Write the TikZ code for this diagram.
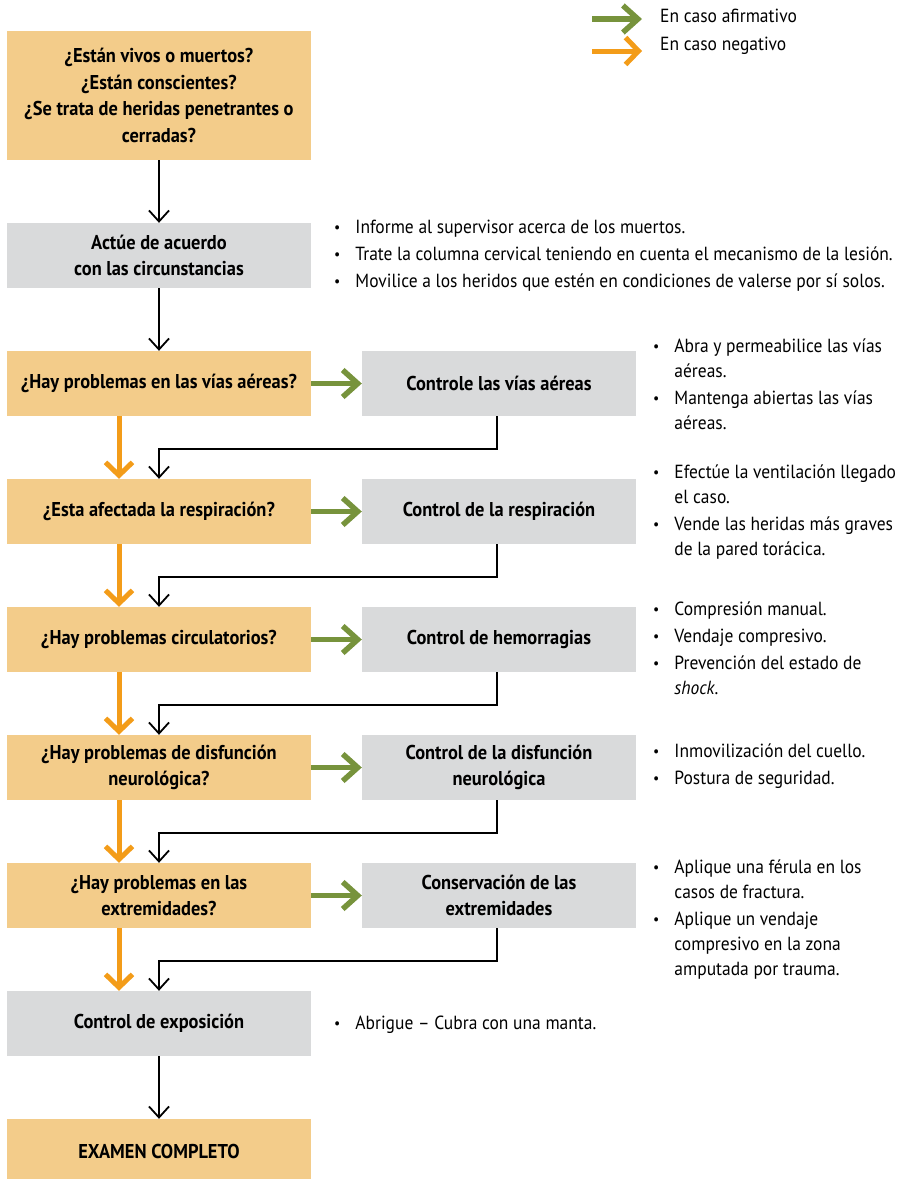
\documentclass[tikz,border=0pt]{standalone}
\usepackage{fontspec}
\setmainfont{PT Sans}[FakeStretch=0.92]
\usetikzlibrary{arrows.meta}
\definecolor{boxorange}{HTML}{F3CC8A}
\definecolor{boxgrey}{HTML}{D9DADB}
\definecolor{argreen}{HTML}{77933C}
\definecolor{arorange}{HTML}{F39C19}
\newcommand{\bul}{\raisebox{1pt}{\fontsize{15}{15}\selectfont •}}
\tikzset{
	qbox/.style={fill=boxorange, minimum width=304pt, minimum height=65pt, inner sep=0pt, align=center, font=\bfseries\fontsize{20}{26.5}\selectfont},
	gbox/.style={qbox, fill=boxgrey},
	rbox/.style={gbox, minimum width=274pt},
	yesarrow/.style={argreen, line width=5.5pt, -{Straight Barb[length=15pt,width=27pt]}},
	noarrow/.style={arorange, line width=5pt, -{Straight Barb[length=13pt,width=27pt]}},
	flow/.style={black, line width=1.8pt, -{Straight Barb[length=11pt,width=20pt]}},
	notes/.style={anchor=west, align=left, inner sep=0pt, font=\fontsize{19}{25}\selectfont}
}
\begin{document}
\begin{tikzpicture}[x=1pt, y=-1pt]
	\useasboundingbox (0,0) rectangle (897,1179);
	% legend
	\coordinate (g0) at (592,19);
	\coordinate (g1) at (642,19);
	\coordinate (o0) at (592,51);
	\coordinate (o1) at (642,51);
	\draw[yesarrow] (g0) -- (g1);
	\draw[noarrow] (o0) -- (o1);
	\node[notes] (ly) at (660,16) {En caso afirmativo};
	\node[notes] (ln) at (660,46) {En caso negativo};

	\node[qbox, minimum height=129pt] (q1) at (159,95.5) {¿Están vivos o muertos?\\¿Están conscientes?\\¿Se trata de heridas penetrantes o\\cerradas?};
	\node[gbox] (q2) at (159,255.5) {Actúe de acuerdo\\con las circunstancias};
	\node[notes] (n2) at (334,255) {\begin{tabular}{@{}l@{\hspace{15pt}}l@{}}
		\bul & Informe al supervisor acerca de los muertos.\\[2pt]
		\bul & Trate la columna cervical teniendo en cuenta el mecanismo de la lesión.\\[2pt]
		\bul & Movilice a los heridos que estén en condiciones de valerse por sí solos.
	\end{tabular}};

	\foreach \n/\y/\q/\r in {3/383.5/{¿Hay problemas en las vías aéreas?}/{Controle las vías aéreas},
		4/511.5/{¿Esta afectada la respiración?}/{Control de la respiración},
		5/639.5/{¿Hay problemas circulatorios?}/{Control de hemorragias},
		6/767.5/{¿Hay problemas de disfunción\\neurológica?}/{Control de la disfunción\\neurológica},
		7/895.5/{¿Hay problemas en las\\extremidades?}/{Conservación de las\\extremidades}}
	{
		\node[qbox] (q\n) at (159,\y) {\q};
		\node[rbox] (r\n) at (499,\y) {\r};
		\draw[yesarrow] (q\n) -- (r\n);
	}
	\node[gbox] (q8) at (159,1023.5) {Control de exposición};
	\node[qbox] (q9) at (159,1151.5) {EXAMEN COMPLETO};

	\draw[flow] (q1) -- (q2);
	\draw[flow] (q2) -- (q3);
	\draw[flow] (q8) -- (q9);
	\foreach \n [evaluate=\n as \m using int(\n+1)] in {3,...,7}
	{
		\draw[noarrow] ([xshift=-40pt]q\n.south) -- ([xshift=-40pt]q\m.north);
		\draw[flow] ([xshift=-2pt]r\n.south) -- ++(0,33) -| (q\m.north);
	}

	\node[notes] (n3) at (653,385.5) {\begin{tabular}{@{}l@{\hspace{15pt}}l@{}}
		\bul & Abra y permeabilice las vías\\
		& aéreas.\\[2pt]
		\bul & Mantenga abiertas las vías\\
		& aéreas.
	\end{tabular}};
	\node[notes] (n4) at (653,512) {\begin{tabular}{@{}l@{\hspace{15pt}}l@{}}
		\bul & Efectúe la ventilación llegado\\
		& el caso.\\[2pt]
		\bul & Vende las heridas más graves\\
		& de la pared torácica.
	\end{tabular}};
	\node[notes] (n5) at (653,650) {\begin{tabular}{@{}l@{\hspace{15pt}}l@{}}
		\bul & Compresión manual.\\[2pt]
		\bul & Vendaje compresivo.\\[2pt]
		\bul & Prevención del estado de\\
		& \textit{shock}.
	\end{tabular}};
	\node[notes] (n6) at (653,766) {\begin{tabular}{@{}l@{\hspace{15pt}}l@{}}
		\bul & Inmovilización del cuello.\\[2pt]
		\bul & Postura de seguridad.
	\end{tabular}};
	\node[notes] (n7) at (653,919) {\begin{tabular}{@{}l@{\hspace{15pt}}l@{}}
		\bul & Aplique una férula en los\\
		& casos de fractura.\\[2pt]
		\bul & Aplique un vendaje\\
		& compresivo en la zona\\
		& amputada por trauma.
	\end{tabular}};
	\node[notes] (n8) at (334,1024) {\begin{tabular}{@{}l@{\hspace{15pt}}l@{}}
		\bul & Abrigue -- Cubra con una manta.
	\end{tabular}};
\end{tikzpicture}
\end{document}
